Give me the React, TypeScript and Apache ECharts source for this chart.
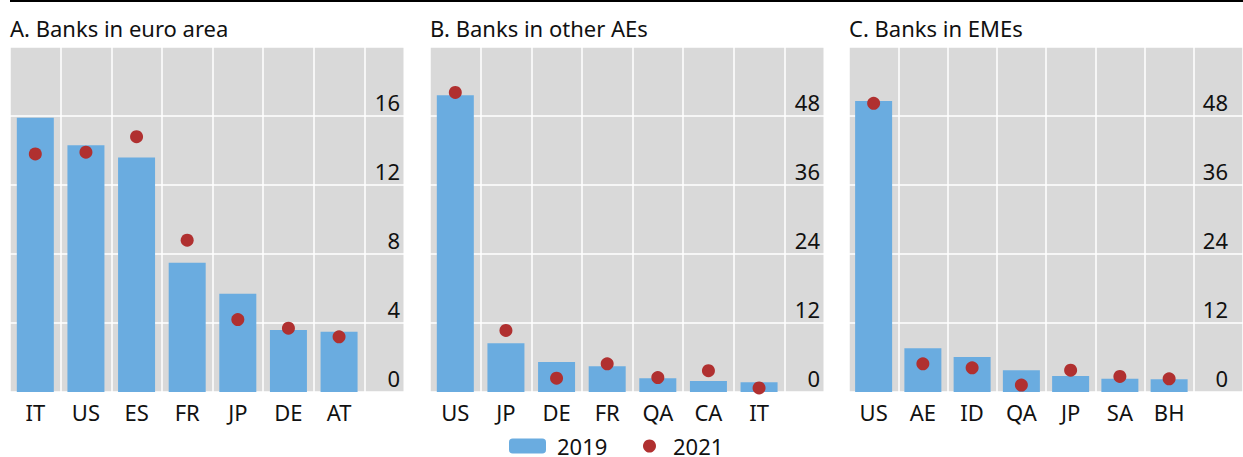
import React, { useEffect, useRef } from 'react';
import * as echarts from 'echarts';

const panelTitles = ['A. Banks in euro area', 'B. Banks in other AEs', 'C. Banks in EMEs'];

const categoriesA = ['IT', 'US', 'ES', 'FR', 'JP', 'DE', 'AT'];
const values2019A = [15.9, 14.3, 13.6, 7.5, 5.7, 3.6, 3.5];
const values2021A = [13.8, 13.9, 14.8, 8.8, 4.2, 3.7, 3.2];

const categoriesB = ['US', 'JP', 'DE', 'FR', 'QA', 'CA', 'IT'];
const values2019B = [51.6, 8.5, 5.2, 4.5, 2.4, 1.9, 1.7];
const values2021B = [52.1, 10.7, 2.4, 4.9, 2.5, 3.7, 0.7];

const categoriesC = ['US', 'AE', 'ID', 'QA', 'JP', 'SA', 'BH'];
const values2019C = [50.6, 7.6, 6.1, 3.8, 2.8, 2.3, 2.2];
const values2021C = [50.2, 4.9, 4.2, 1.2, 3.8, 2.7, 2.3];

const yMaxes = [20, 60, 60];
const yIntervals = [4, 12, 12];
const seriesNames = ['2019', '2021'];

const FONT = 'Noto Sans';
const FS = 22;
const BAR_COLOR = '#6aace0';
const DOT_COLOR = '#b03030';
const BG = '#d9d9d9';

export default function App() {
  const ref = useRef<HTMLDivElement>(null);
  useEffect(() => {
    document.body.style.margin = '0';
    const chart = echarts.init(ref.current!, null, { renderer: 'svg' });
    const cats = [categoriesA, categoriesB, categoriesC];
    const v19 = [values2019A, values2019B, values2019C];
    const v21 = [values2021A, values2021B, values2021C];
    const lefts = [10, 430, 849];
    const gridTop = 47;
    const gridHeight = 345;
    const gridWidth = 405;

    const grids = lefts.map((l) => ({
      left: l,
      top: gridTop,
      width: gridWidth,
      height: gridHeight,
      show: true,
      backgroundColor: BG,
      borderWidth: 0,
      containLabel: false,
    }));

    const xAxes = cats.map((c, i) => ({
      type: 'category',
      gridIndex: i,
      data: [...c, ''],
      axisLine: { show: false },
      axisTick: { show: false },
      splitLine: { show: true, lineStyle: { color: '#ffffff', width: 1.5 } },
      axisLabel: { fontFamily: FONT, fontSize: FS, color: '#111', margin: 9, lineHeight: 22, interval: 0 },
    }));

    const yAxes = yMaxes.map((m, i) => ({
      type: 'value',
      gridIndex: i,
      position: 'right',
      min: 0,
      max: m,
      interval: yIntervals[i],
      axisLine: { show: false },
      axisTick: { show: false },
      splitLine: { show: true, lineStyle: { color: '#ffffff', width: 1.5 } },
      axisLabel: {
        inside: true,
        margin: 15,
        fontFamily: FONT,
        fontSize: FS,
        color: '#111',
        verticalAlign: 'bottom',
        lineHeight: 22,
        padding: [0, 0, 3, 0],
        formatter: (v: number) => (v === m ? '' : String(v)),
      },
    }));

    const series: any[] = [];
    for (let i = 0; i < 3; i++) {
      series.push({
        name: seriesNames[0],
        type: 'bar',
        xAxisIndex: i,
        yAxisIndex: i,
        data: v19[i],
        barWidth: 37,
        itemStyle: { color: BAR_COLOR },
      });
      series.push({
        name: seriesNames[1],
        type: 'scatter',
        xAxisIndex: i,
        yAxisIndex: i,
        data: v21[i],
        symbol: 'circle',
        symbolSize: 13,
        itemStyle: { color: DOT_COLOR, opacity: 1 },
        z: 5,
      });
    }

    chart.setOption({
      animation: false,
      textStyle: { fontFamily: FONT },
      title: panelTitles.map((t, i) => ({
        text: t,
        left: lefts[i],
        top: 16,
        padding: 0,
        textStyle: { fontFamily: FONT, fontSize: FS, fontWeight: 'normal', color: '#111', lineHeight: 24 },
      })),
      legend: [
        {
          data: [seriesNames[0]],
          left: 509,
          top: 435,
          padding: 0,
          itemWidth: 37,
          itemHeight: 15,
          selectedMode: false,
          textStyle: { fontFamily: FONT, fontSize: FS, color: '#111', lineHeight: 22, padding: [0, 0, 0, 6] },
        },
        {
          data: [seriesNames[1]],
          left: 643,
          top: 435,
          padding: 0,
          icon: 'circle',
          itemWidth: 13,
          itemHeight: 13,
          selectedMode: false,
          textStyle: { fontFamily: FONT, fontSize: FS, color: '#111', lineHeight: 22, padding: [0, 0, 0, 12] },
        },
      ],
      grid: grids,
      xAxis: xAxes,
      yAxis: yAxes,
      series,
      graphic: [
        { type: 'line', z: 100, shape: { x1: 10, y1: 1, x2: 1243, y2: 1 }, style: { stroke: '#000', lineWidth: 2 } },
        { type: 'rect', z: 100, shape: { x: 403.5, y: 40, width: 13, height: 360 }, style: { fill: '#fff' } },
        { type: 'rect', z: 100, shape: { x: 823.5, y: 40, width: 13, height: 360 }, style: { fill: '#fff' } },
      ],
    });
    return () => chart.dispose();
  }, []);
  return <div ref={ref} style={{ width: 1243, height: 457 }} />;
}
